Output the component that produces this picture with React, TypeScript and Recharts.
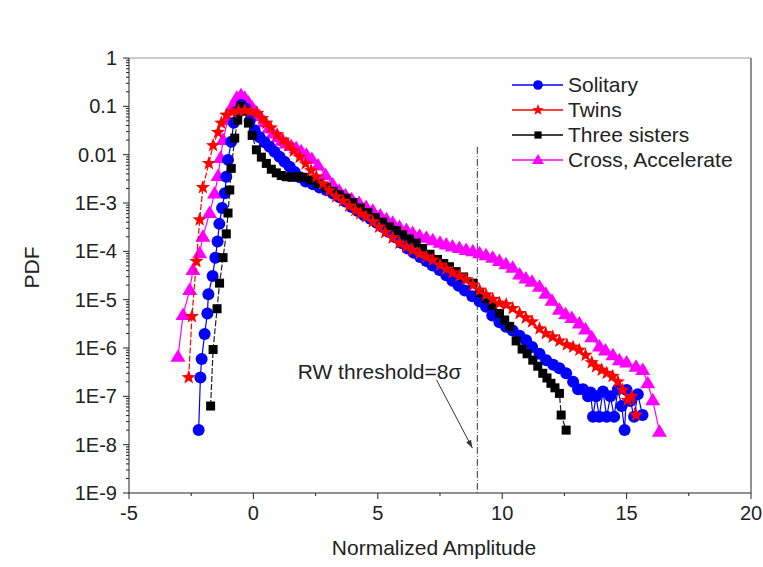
import { ScatterChart, Scatter, XAxis, YAxis, ReferenceLine, ReferenceDot } from 'recharts';

const FONT = '"Liberation Sans", Arial, sans-serif';
const TEXT = '#222';

const SOLITARY = '#0000ff';
const TWINS = '#ff0000';
const THREE = '#000000';
const CROSS = '#ff00ff';

// x ticks
const X_TICKS = [-5, 0, 5, 10, 15, 20];
const X_MINOR = [-2.5, 2.5, 7.5, 12.5, 17.5];

// y ticks (log)
const Y_TICKS = [1e-9, 1e-8, 1e-7, 1e-6, 1e-5, 1e-4, 1e-3, 0.01, 0.1, 1];
const Y_LABELS = ['1E-9', '1E-8', '1E-7', '1E-6', '1E-5', '1E-4', '1E-3', '0.01', '0.1', '1'];
const Y_MINOR: number[] = [];
for (let d = -9; d < 0; d++) {
  for (let k = 2; k <= 9; k++) Y_MINOR.push(k * Math.pow(10, d));
}

// Solitary
const solitaryX = [
  -2.2, -2.13, -2.08, -1.96, -1.85, -1.81, -1.64, -1.53, -1.44, -1.37, -1.26, -1.15, -1.09, -1.02, -0.89, -0.79, -0.62, -0.48,
  -0.3, -0.15, 0.05, 0.25, 0.45, 0.65, 0.85, 1.05, 1.25, 1.46, 1.66, 1.86, 2.1, 2.39, 2.66, 2.93, 3.2, 3.46, 3.7, 3.95,
  4.2, 4.45, 4.7, 4.95, 5.2, 5.45, 5.7, 5.95, 6.2, 6.45, 6.7, 6.95, 7.2, 7.48, 7.75, 8.0, 8.25, 8.5, 8.8, 9.09, 9.35, 9.6,
  9.89, 10.15, 10.42, 10.7, 10.96, 11.2, 11.5, 11.77, 12.05, 12.3, 12.57, 12.85, 13.05, 13.25, 13.45, 13.55, 13.65, 13.77,
  13.9, 14.05, 14.2, 14.35, 14.5, 14.65, 14.8, 14.92, 15.0, 15.15, 15.3, 15.45, 15.64,
];
const solitaryPdf = [
  2.0e-8, 2.45e-7, 5.9e-7, 1.95e-6, 5.2e-6, 1.3e-5, 3.1e-5, 7.4e-5, 1.6e-4, 3.7e-4, 7.9e-4, 1.6e-3, 3.5e-3, 7.8e-3, 0.0186, 0.046, 0.079, 0.107,
  0.089, 0.05, 0.032, 0.023, 0.018, 0.0145, 0.0115, 9.1e-3, 7.1e-3, 5.6e-3, 4.4e-3, 3.4e-3, 2.8e-3, 2.45e-3, 2.1e-3, 1.86e-3, 1.58e-3, 1.32e-3, 1.07e-3, 8.3e-4,
  6.8e-4, 5.6e-4, 4.7e-4, 3.9e-4, 3.2e-4, 2.5e-4, 1.95e-4, 1.48e-4, 1.15e-4, 9.3e-5, 7.6e-5, 6.3e-5, 5.1e-5, 4.1e-5, 3.2e-5, 2.45e-5, 1.95e-5, 1.55e-5, 1.17e-5, 9.3e-6, 7.1e-6, 4.7e-6,
  3.4e-6, 2.75e-6, 2.3e-6, 1.8e-6, 1.45e-6, 1.05e-6, 7.6e-7, 5.6e-7, 4.5e-7, 3.8e-7, 3.0e-7, 2.0e-7, 1.4e-7, 1.4e-7, 1.0e-7, 1.2e-7, 3.8e-8, 1.0e-7,
  3.8e-8, 1.26e-7, 3.8e-8, 1.0e-7, 3.8e-8, 1.4e-7, 6.3e-8, 2.0e-8, 1.35e-7, 8e-8, 3.8e-8, 1.1e-7, 4.1e-8,
];

// Twins
const twinsX = [
  -2.6, -2.47, -2.29, -2.16, -2.03, -1.79, -1.62, -1.42, -1.29, -1.09, -0.85, -0.6, -0.35, -0.1, 0.15, 0.35, 0.52, 0.7, 0.95,
  1.19, 1.4, 1.62, 1.86, 2.1, 2.32, 2.53, 2.8, 3.05, 3.33, 3.6, 3.85, 4.1, 4.3, 4.53, 4.8, 5.05, 5.3, 5.6, 5.87, 6.15, 6.4,
  6.68, 6.95, 7.21, 7.5, 7.75, 8.0, 8.28, 8.55, 8.82, 9.09, 9.35, 9.62, 9.89, 10.16, 10.42, 10.7, 10.95, 11.2, 11.5, 11.75,
  12.03, 12.3, 12.6, 12.85, 13.1, 13.35, 13.6, 13.77, 14.0, 14.2, 14.44, 14.65, 14.84, 15.04, 15.2, 15.38,
];
const twinsPdf = [
  2.45e-7, 4.5e-6, 6.2e-5, 4.5e-4, 2.1e-3, 6.6e-3, 0.0155, 0.029, 0.045, 0.066, 0.076, 0.081, 0.083, 0.079, 0.072, 0.056, 0.045, 0.036, 0.026,
  0.02, 0.0158, 0.012, 8.9e-3, 6.5e-3, 4.7e-3, 3.5e-3, 2.5e-3, 1.8e-3, 1.35e-3, 1.1e-3, 8.7e-4, 7.1e-4, 6.0e-4, 5.2e-4, 4.1e-4, 3.2e-4, 2.45e-4, 1.9e-4, 1.48e-4, 1.23e-4, 1.05e-4,
  8.9e-5, 7.6e-5, 6.6e-5, 5.2e-5, 4.3e-5, 3.6e-5, 3.1e-5, 2.6e-5, 2.0e-5, 1.58e-5, 1.26e-5, 1.02e-5, 8.5e-6, 7.9e-6, 6.6e-6, 5.2e-6, 4.2e-6, 3.5e-6, 2.5e-6, 2.0e-6,
  1.7e-6, 1.4e-6, 1.17e-6, 1.05e-6, 9.1e-7, 7.1e-7, 5.0e-7, 4.1e-7, 3.5e-7, 3.0e-7, 2.6e-7, 2.0e-7, 1.35e-7, 8.3e-8, 1.0e-7, 4.1e-8,
];

// Three sisters
const threeX = [
  -1.72, -1.62, -1.46, -1.36, -1.22, -1.09, -1.02, -0.95, -0.89, -0.75, -0.63, -0.51, -0.35, -0.2, -0.05, 0.12, 0.32, 0.52,
  0.72, 0.92, 1.12, 1.32, 1.55, 1.8, 2.05, 2.3, 2.6, 2.93, 3.2, 3.45, 3.73, 4.0, 4.3, 4.6, 4.9, 5.2, 5.47, 5.75, 6.0, 6.27,
  6.54, 6.8, 7.1, 7.4, 7.65, 7.88, 8.15, 8.45, 8.82, 9.09, 9.35, 9.6, 9.89, 10.1, 10.3, 10.56, 10.8, 11.0, 11.23, 11.43,
  11.63, 11.8, 11.96, 12.12, 12.3, 12.37, 12.57,
];
const threePdf = [
  6.3e-8, 9.3e-7, 6.5e-6, 2.2e-5, 7.4e-5, 2.3e-4, 6.2e-4, 1.86e-3, 5.2e-3, 0.022, 0.052, 0.1, 0.079, 0.045, 0.025, 0.0126, 8.9e-3, 6.6e-3,
  5.0e-3, 4.2e-3, 3.7e-3, 3.5e-3, 3.4e-3, 3.5e-3, 3.4e-3, 3.0e-3, 2.5e-3, 2.1e-3, 1.74e-3, 1.48e-3, 1.26e-3, 1.02e-3, 7.9e-4, 6.3e-4, 5.0e-4, 4.0e-4, 3.2e-4, 2.7e-4, 2.2e-4, 1.8e-4,
  1.48e-4, 1.15e-4, 8.7e-5, 6.8e-5, 5.6e-5, 4.8e-5, 3.8e-5, 2.95e-5, 2.2e-5, 1.4e-5, 1.05e-5, 7.6e-6, 5.2e-6, 3.8e-6, 2.8e-6, 1.4e-6, 9.5e-7, 7.6e-7, 5.6e-7, 4.2e-7,
  3.0e-7, 2.4e-7, 1.86e-7, 1.5e-7, 1.15e-7, 4.1e-8, 2.0e-8,
];

// Cross, Accelerate
const crossX = [
  -3.03, -2.83, -2.56, -2.43, -2.16, -2.03, -1.76, -1.56, -1.42, -1.32, -1.22, -1.03, -0.83, -0.67, -0.5, -0.35, -0.2, -0.05,
  0.1, 0.25, 0.45, 0.62, 0.79, 1.0, 1.15, 1.32, 1.52, 1.72, 1.92, 2.13, 2.35, 2.6, 2.9, 3.19, 3.45, 3.7, 3.95, 4.25, 4.53,
  4.8, 5.1, 5.35, 5.6, 5.87, 6.15, 6.4, 6.68, 6.95, 7.21, 7.5, 7.75, 8.0, 8.28, 8.55, 8.82, 9.09, 9.35, 9.62, 9.89, 10.15,
  10.42, 10.7, 10.95, 11.2, 11.5, 11.75, 12.0, 12.3, 12.55, 12.8, 13.1, 13.35, 13.6, 13.91, 14.15, 14.45, 14.71, 15.0,
  15.38, 15.65, 15.85, 16.05, 16.32,
];
const crossPdf = [
  6.6e-7, 4.8e-6, 1.58e-5, 4.1e-5, 9.1e-5, 2.0e-4, 6.2e-4, 1.58e-3, 3.6e-3, 8.5e-3, 0.02, 0.052, 0.107, 0.151, 0.17, 0.151, 0.12, 0.095,
  0.076, 0.062, 0.047, 0.035, 0.0275, 0.023, 0.0195, 0.017, 0.0151, 0.0135, 0.0117, 0.01, 8.1e-3, 6.0e-3, 3.8e-3, 2.4e-3, 1.8e-3, 1.45e-3, 1.2e-3, 1.0e-3, 8.3e-4,
  6.9e-4, 5.5e-4, 4.6e-4, 3.9e-4, 3.2e-4, 2.75e-4, 2.4e-4, 2.1e-4, 1.9e-4, 1.7e-4, 1.5e-4, 1.38e-4, 1.26e-4, 1.17e-4, 1.07e-4, 1.0e-4, 9.1e-5, 8.3e-5, 7.4e-5, 6.3e-5, 5.4e-5,
  4.6e-5, 3.3e-5, 2.75e-5, 2.35e-5, 1.86e-5, 1.32e-5, 9.5e-6, 6.2e-6, 5.0e-6, 4.2e-6, 3.2e-6, 2.4e-6, 1.66e-6, 1.07e-6, 8.9e-7, 7.1e-7, 5.6e-7, 5.0e-7,
  4.1e-7, 3.5e-7, 1.86e-7, 8.3e-8, 1.86e-8,
];

// RW threshold annotation
const THRESHOLD_X = 9;
const THRESHOLD_TOP = 0.0145;
const ANNOT_LABEL = 'RW threshold=8\u03c3';
const ANNOT_POS = { x: 5.07, y: 3.2e-7 };
const ARROW_FROM = { x: 7.36, y: 2.2e-7 };
const ARROW_TO = { x: 8.8, y: 8.5e-9 };

const toPoints = (xs: number[], ys: number[]) => xs.map((x, i) => ({ x, y: ys[i] }));

const solitaryData = toPoints(solitaryX, solitaryPdf);
const twinsData = toPoints(twinsX, twinsPdf);
const threeData = toPoints(threeX, threePdf);
const crossData = toPoints(crossX, crossPdf);

function starPath(cx: number, cy: number, R: number, r: number) {
  const pts: string[] = [];
  for (let i = 0; i < 10; i++) {
    const rad = i % 2 === 0 ? R : r;
    const a = -Math.PI / 2 + (i * Math.PI) / 5;
    pts.push(`${cx + rad * Math.cos(a)},${cy + rad * Math.sin(a)}`);
  }
  return pts.join(' ');
}

function Marker({ kind, cx, cy, color, s = 1 }: { kind: string; cx: number; cy: number; color: string; s?: number }) {
  if (kind === 'circle') return <circle cx={cx} cy={cy} r={6 * s} fill={color} />;
  if (kind === 'square') return <rect x={cx - 4.5 * s} y={cy - 4.5 * s} width={9 * s} height={9 * s} fill={color} />;
  if (kind === 'triangle')
    return (
      <polygon
        points={`${cx},${cy - 7.5 * s} ${cx - 7.5 * s},${cy + 5 * s} ${cx + 7.5 * s},${cy + 5 * s}`}
        fill={color}
      />
    );
  return <polygon points={starPath(cx, cy, 7.5 * s, 3.1 * s)} fill={color} />;
}

const shapeOf = (kind: string, color: string) => (props: any) =>
  <Marker kind={kind} cx={props.cx} cy={props.cy} color={color} />;

function XTick(props: any) {
  const { x, y, payload } = props;
  const major = X_TICKS.includes(payload.value);
  return (
    <g>
      <line x1={x} y1={y} x2={x} y2={y + (major ? 6 : 3)} stroke={TEXT} />
      {major && (
        <text x={x} y={y + 27} textAnchor="middle" fontFamily={FONT} fontSize={20} fill={TEXT}>
          {payload.value}
        </text>
      )}
    </g>
  );
}

function YTick(props: any) {
  const { x, y, payload } = props;
  const idx = Y_TICKS.indexOf(payload.value);
  const major = idx >= 0;
  return (
    <g>
      <line x1={x} y1={y} x2={x - (major ? 6 : 3)} y2={y} stroke={TEXT} />
      {major && (
        <text x={x - 12} y={y} dy="0.35em" textAnchor="end" fontFamily={FONT} fontSize={20} fill={TEXT}>
          {Y_LABELS[idx]}
        </text>
      )}
    </g>
  );
}

const LEGEND = [
  { name: 'Solitary', color: SOLITARY, kind: 'circle' },
  { name: 'Twins', color: TWINS, kind: 'star' },
  { name: 'Three sisters', color: THREE, kind: 'square' },
  { name: 'Cross, Accelerate', color: CROSS, kind: 'triangle' },
];

function LegendBox() {
  return (
    <svg width={258} height={110} style={{ position: 'absolute', left: 505, top: 72 }}>
      {LEGEND.map((item, i) => {
        const cy = 13 + i * 25;
        return (
          <g key={item.name}>
            <line x1={7} y1={cy} x2={58} y2={cy} stroke={item.color} strokeWidth={1.5} />
            <Marker kind={item.kind} cx={33} cy={cy} color={item.color} s={0.8} />
            <text x={63} y={cy} dy="0.35em" fontFamily={FONT} fontSize={21} fill={TEXT}>
              {item.name}
            </text>
          </g>
        );
      })}
    </svg>
  );
}

export default function App() {
  return (
    <div style={{ position: 'absolute', left: 0, top: 0, width: 763, height: 567, background: '#fff' }}>
      <ScatterChart width={763} height={567} margin={{ top: 58, right: 12, bottom: 0, left: 0 }}>
        <XAxis
          type="number"
          dataKey="x"
          domain={[-5, 20]}
          ticks={[...X_TICKS, ...X_MINOR].sort((a, b) => a - b)}
          interval={0}
          tickSize={0}
          tickMargin={0}
          tickLine={false}
          tick={<XTick />}
          height={74}
          axisLine={{ stroke: TEXT }}
          label={(p: any) => (
            <text
              x={p.viewBox.x + p.viewBox.width / 2 - 6}
              y={555}
              textAnchor="middle"
              fontFamily={FONT}
              fontSize={21}
              fill={TEXT}
            >
              Normalized Amplitude
            </text>
          )}
        />
        <YAxis
          type="number"
          dataKey="y"
          scale="log"
          domain={[1e-9, 1]}
          allowDataOverflow
          ticks={[...Y_TICKS, ...Y_MINOR].sort((a, b) => a - b)}
          interval={0}
          tickSize={0}
          tickMargin={0}
          tickLine={false}
          tick={<YTick />}
          width={129}
          axisLine={{ stroke: TEXT }}
          label={(p: any) => (
            <text
              x={0}
              y={0}
              transform={`translate(39, ${p.viewBox.y + p.viewBox.height / 2 - 8}) rotate(-90)`}
              textAnchor="middle"
              fontFamily={FONT}
              fontSize={21}
              fill={TEXT}
            >
              PDF
            </text>
          )}
        />
        <ReferenceLine y={1} stroke="#9a9a9a" strokeWidth={1} />
        <ReferenceLine x={20} stroke={TEXT} strokeWidth={1} />
        <ReferenceLine
          segment={[
            { x: THRESHOLD_X, y: THRESHOLD_TOP },
            { x: THRESHOLD_X, y: 1e-9 },
          ]}
          stroke="#333"
          strokeWidth={1}
          strokeDasharray="7 2 1 2"
        />
        <ReferenceLine segment={[ARROW_FROM, ARROW_TO]} stroke="#333" strokeWidth={1} />
        <ReferenceDot
          x={ARROW_TO.x}
          y={ARROW_TO.y}
          shape={(p: any) => (
            <polygon points="0,0 -8,-2.8 -8,2.8" fill="#333" transform={`translate(${p.cx},${p.cy}) rotate(62)`} />
          )}
        />
        <ReferenceDot
          x={ANNOT_POS.x}
          y={ANNOT_POS.y}
          shape={(p: any) => (
            <text x={p.cx} y={p.cy} dy="0.35em" textAnchor="middle" fontFamily={FONT} fontSize={21} fill={TEXT}>
              {ANNOT_LABEL}
            </text>
          )}
        />
        <Scatter
          name="Cross, Accelerate"
          data={crossData}
          fill={CROSS}
          line={{ stroke: CROSS, strokeWidth: 1.2 }}
          lineType="joint"
          shape={shapeOf('triangle', CROSS)}
          isAnimationActive={false}
        />
        <Scatter
          name="Solitary"
          data={solitaryData}
          fill={SOLITARY}
          line={{ stroke: SOLITARY, strokeWidth: 1.2 }}
          lineType="joint"
          shape={shapeOf('circle', SOLITARY)}
          isAnimationActive={false}
        />
        <Scatter
          name="Three sisters"
          data={threeData}
          fill={THREE}
          line={{ stroke: '#222', strokeWidth: 1.2, strokeDasharray: '6 2' }}
          lineType="joint"
          shape={shapeOf('square', THREE)}
          isAnimationActive={false}
        />
        <Scatter
          name="Twins"
          data={twinsData}
          fill={TWINS}
          line={{ stroke: TWINS, strokeWidth: 1.2, strokeDasharray: '6 2' }}
          lineType="joint"
          shape={shapeOf('star', TWINS)}
          isAnimationActive={false}
        />
      </ScatterChart>
      <LegendBox />
    </div>
  );
}
